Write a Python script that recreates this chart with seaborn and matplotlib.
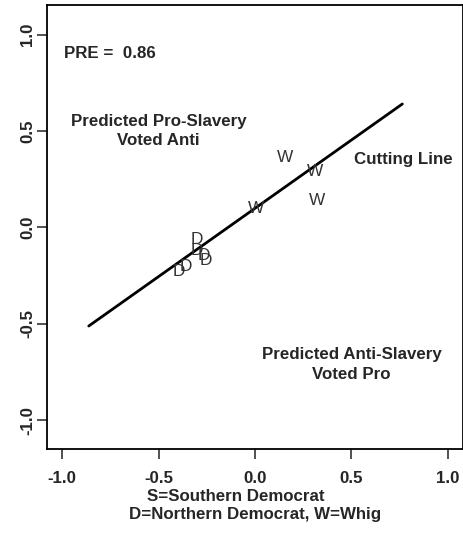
import matplotlib
matplotlib.use("Agg")
import matplotlib.pyplot as plt
import seaborn as sns
import pandas as pd

# ---- data ----
party_labels = ["D", "D", "D", "D", "D", "D", "W", "W", "W", "W"]
coord_x = [-0.302, -0.302, -0.266, -0.256, -0.360, -0.396, 0.155, 0.311, 0.320, 0.003]
coord_y = [-0.065, -0.117, -0.148, -0.169, -0.200, -0.226, 0.363, 0.289, 0.142, 0.099]
cut_x = [-0.862, 0.764]
cut_y = [-0.511, 0.640]
ticks = [-1.0, -0.5, 0.0, 0.5, 1.0]
tick_labels = ["-1.0", "-0.5", "0.0", "0.5", "1.0"]
pre_value = 0.86

sns.set_style("ticks")
plt.rcParams["font.family"] = ["Liberation Sans", "DejaVu Sans"]

W, H = 464, 540
fig = plt.figure(figsize=(W / 100, H / 100), dpi=100)
ax = fig.add_axes([46.7 / W, 1 - 449.3 / H, (463.3 - 46.7) / W, (449.3 - 5) / H])

df_line = pd.DataFrame({"x": cut_x, "y": cut_y})
sns.lineplot(data=df_line, x="x", y="y", ax=ax, color="black", linewidth=2.0,
             estimator=None, sort=False)

for lab, x, y in zip(party_labels, coord_x, coord_y):
    ax.text(x, y, lab, ha="center", va="center", fontsize=12.4,
            color="#333333", fontweight="normal")

ax.set_xlim(-1.08, 1.08)
ax.set_ylim(-1.15, 1.153)
ax.set_xticks(ticks)
ax.set_xticklabels(tick_labels)
ax.set_yticks(ticks)
ax.set_yticklabels(tick_labels, rotation=90, va="center")
ax.set_xlabel("")
ax.set_ylabel("")

for s in ax.spines.values():
    s.set_visible(True)
    s.set_color("black")
    s.set_linewidth(1.3)

ax.tick_params(axis="both", direction="out", length=7.5, width=1.2, color="#333333",
               labelsize=12.2)
ax.tick_params(axis="x", pad=8)
ax.tick_params(axis="y", pad=1)
for t in ax.get_xticklabels() + ax.get_yticklabels():
    t.set_fontweight("bold")

ax.text(-0.75, 0.9, f"PRE =  {pre_value}", ha="center", va="center",
        fontsize=12.2, fontweight="bold")
ax.text(-0.5, 0.5, "Predicted Pro-Slavery\nVoted Anti", ha="center", va="center",
        fontsize=12.2, fontweight="bold", linespacing=1.35)
ax.text(0.77, 0.35, "Cutting Line", ha="center", va="center",
        fontsize=12.2, fontweight="bold")
ax.text(0.5, -0.71, "Predicted Anti-Slavery\nVoted Pro", ha="center", va="center",
        fontsize=12.2, fontweight="bold", linespacing=1.35)

fig.text(236 / W, 1 - 496.7 / H, "S=Southern Democrat", ha="center", va="center",
         fontsize=12.2, fontweight="bold")
fig.text(255.5 / W, 1 - 514 / H, "D=Northern Democrat, W=Whig", ha="center", va="center",
         fontsize=12.2, fontweight="bold")

fig.savefig("out.png", dpi=100, facecolor="white")
